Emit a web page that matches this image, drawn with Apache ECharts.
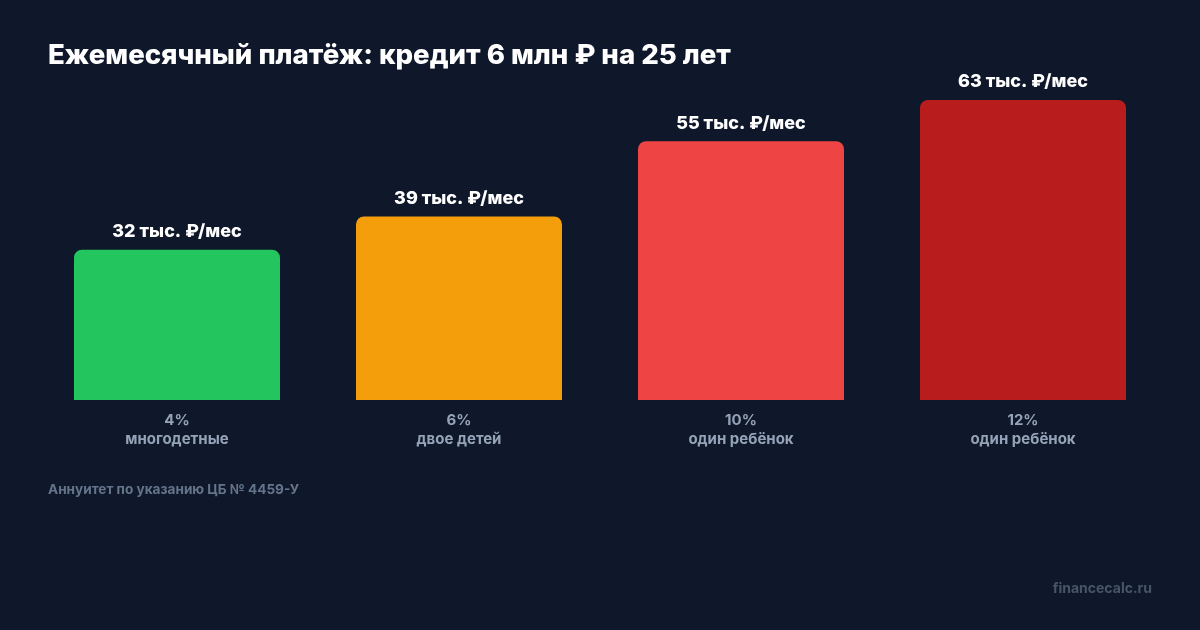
<!DOCTYPE html>
<html><head><meta charset="utf-8">
<script src="https://cdn.jsdelivr.net/npm/echarts@6/dist/echarts.min.js"></script>
<style>html,body{margin:0;padding:0;background:#0f172a}#c{width:1200px;height:630px}</style>
</head><body><div id="c"></div>
<script>
const rates = ['4%', '6%', '10%', '12%'];
const groups = ['многодетные', 'двое детей', 'один ребёнок', 'один ребёнок'];
const payments = [31.67, 38.66, 54.52, 63.19];
const labels = ['32 тыс. ₽/мес', '39 тыс. ₽/мес', '55 тыс. ₽/мес', '63 тыс. ₽/мес'];
const colors = ['#22c55e', '#f59e0b', '#ef4444', '#b91c1c'];

const FONT = 'Inter, "Noto Sans", sans-serif';
const chart = echarts.init(document.getElementById('c'));
chart.setOption({
  backgroundColor: '#0f172a',
  animation: false,
  title: [{
    text: 'Ежемесячный платёж: кредит 6 млн ₽ на 25 лет',
    left: 48, top: 42, padding: 0,
    textStyle: { color: '#ffffff', fontFamily: FONT, fontWeight: 800, fontSize: 27.6 }
  }, {
    text: 'Аннуитет по указанию ЦБ № 4459-У',
    left: 48, top: 483, padding: 0,
    textStyle: { color: '#64748b', fontFamily: FONT, fontWeight: 700, fontSize: 13.6 }
  }, {
    text: 'financecalc.ru',
    right: 48, top: 582, padding: 0,
    textStyle: { color: '#475569', fontFamily: FONT, fontWeight: 700, fontSize: 14 }
  }],
  grid: { left: 36, right: 36, top: 100, bottom: 230 },
  xAxis: {
    type: 'category',
    data: rates.map((r, i) => r + '\n' + groups[i]),
    axisLine: { show: false }, axisTick: { show: false },
    axisLabel: {
      color: '#94a3b8', fontFamily: FONT, fontWeight: 700, fontSize: 15,
      lineHeight: 19, margin: 11
    }
  },
  yAxis: {
    type: 'value', min: 0, max: 'dataMax',
    show: false, splitLine: { show: false }
  },
  series: [{
    type: 'bar',
    barWidth: 206,
    data: payments.map((v, i) => ({ value: v, itemStyle: { color: colors[i] } })),
    itemStyle: { borderRadius: [8, 8, 0, 0] },
    label: {
      show: true, position: 'top', distance: 9,
      formatter: p => labels[p.dataIndex],
      color: '#ffffff', fontFamily: FONT, fontWeight: 800, fontSize: 18
    }
  }]
});
</script></body></html>
